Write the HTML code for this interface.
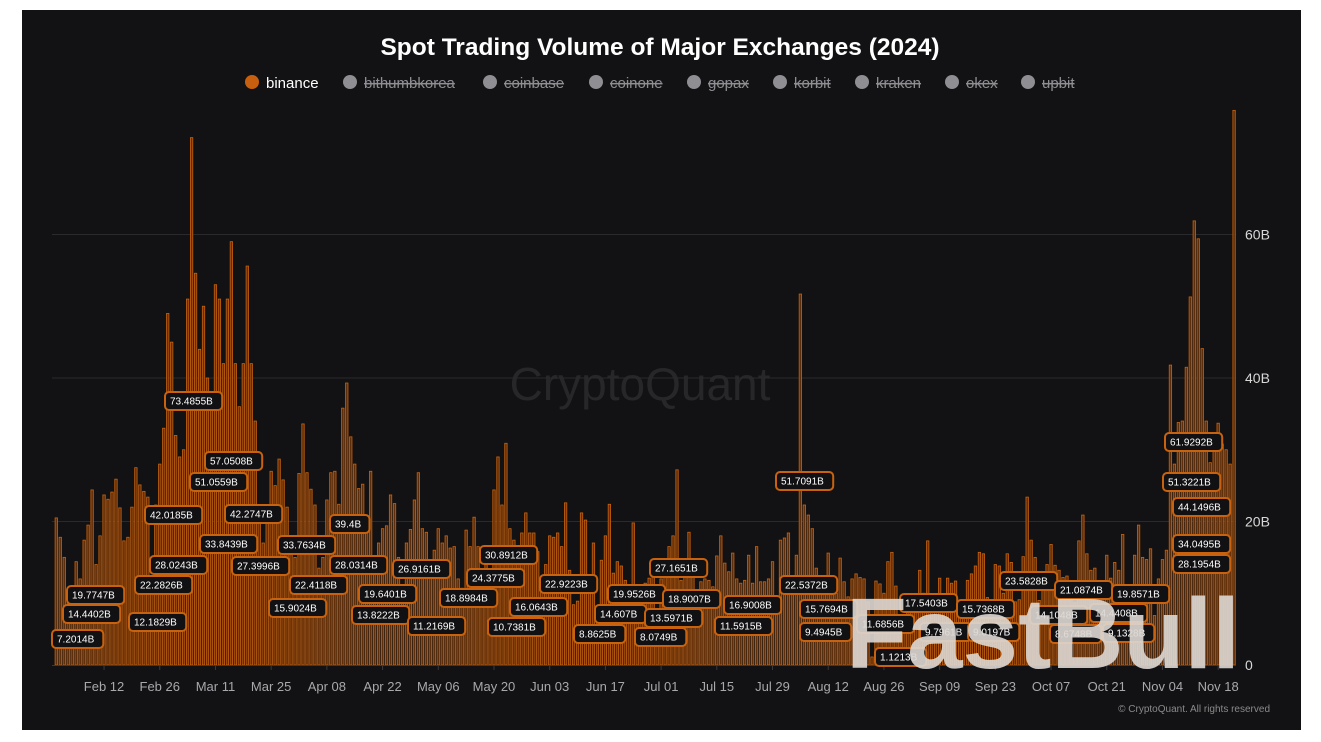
<!DOCTYPE html>
<html><head><meta charset="utf-8"><style>
html,body{margin:0;padding:0;background:#fff;}
svg{display:block;font-family:"Liberation Sans",sans-serif;}
</style></head><body>
<svg id="chart" width="1321" height="742" viewBox="0 0 1321 742">
  <rect x="22" y="10" width="1279" height="720" fill="#121214"/>
  <text x="660" y="55" text-anchor="middle" font-size="24.5" font-weight="bold" fill="#ffffff">Spot Trading Volume of Major Exchanges (2024)</text>
  <g id="legend"></g>
  <text x="640" y="400" text-anchor="middle" font-size="46" fill="#27272a">CryptoQuant</text>
  <g id="grid"></g>
  <g id="bars"></g>
  <g id="xaxis"></g>
  <g id="yaxis"></g>
  <g id="labels"></g>
  <text x="846" y="668" font-size="100" font-weight="bold" fill="#ddd8d3" opacity="0.9" textLength="394" lengthAdjust="spacingAndGlyphs">FastBull</text>
  <text x="1270" y="712" text-anchor="end" font-size="10" fill="#8a8a8a">© CryptoQuant. All rights reserved</text>
</svg>
<script>
const startDate = "2024-01-31";
const volA = [20.5,17.8,15,10,7.2,14.4,12,17.4,19.5,24.4,14,18,23.7,23.1,24.1,25.9,21.9,17.3,17.8,22,27.5,25.1,24.2,23.4,12.2,22.3,28];
const volB = [33,49,45,32,29,30,51,73.5,54.6,44,50,40,37,53,51,42,51,59,42,36,42,55.6];
const volC = [42,34,20,17,20,27,25,28.7,25.8,22,15.9,15,26.7,33.6,26.8,24.5,22.3,13.5,15,23,26.8,27,22.4,35.8,39.3,31.8,28,24.6,25.2,19.6,27,13.8,17,19,19.4,23.7,22.5,15,11.2,17,18.9,23,26.8,19,18.5,14,16,19,17,18,16.3,16.5,12,10.7];
const volD = [18.8,16.5,20.6,16.5,10.7,14.6,13,24.4,29,22.3,30.9,19,17.4,16,18.4,21.2,18.4,18.4,15.8,11.8,14,18,17.8,18.4,16.5,22.6,13.2,8.4,8.9,21.2,20.2,11.8,17,7.2,14.6,18,22.4,12.8,14.4,13.8,11.8,8.1,19.8,11,10,11.4,12.1];
const volE = [13.6,7.2,12,14,16.5,18,27.2,11.8,13,18.5,13.7,10.5,11.6,12,11.8,10.9,15.2,18,14.2,13,15.6,12,11.4,11.8,15.3,11.4,16.5,11.6,11.6,12,14.4,8,17.4,17.7,18.4,12,15.3,51.7,22.3,20.9,19,13.5,11.8,10,15.6,11.8,10,14.9,11.6,9.5,12];
const volF = [12.7,12.2,12,8.8,1.12,11.7,11.3,10,14.4,15.7,11,7,6.6,8,9.9,9.8,13.2,10,17.3,9.9,9.5,12.1,9.9,12.1,11.4,11.7,7.7,9,11.8,12.7,13.8,15.7,15.5,9.4,9,14,13.8,10,15.5,14.3,8.8,9.1,15.1,23.4,17.4,15,9,10.5,14,16.8,13.9,13.2,12.2,12.4,9.9,8.7,17.3,20.9,15.5,13.2,13.5,9.9,9.1,15.3,12.1,14.3,13.2,18.2,10.5,9.5,15.3,19.5,15,14.7,16.2,6.9,12,14.7,16,41.8,28,33.8,34,41.5,51.3,61.9,59.4,44.1,34,28.2,30.8,33.7,30.8,30,28,77.3];
const volumes = volA.concat(volB, volC, volD, volE, volF);
const xTicks = ["Feb 12","Feb 26","Mar 11","Mar 25","Apr 08","Apr 22","May 06","May 20","Jun 03","Jun 17","Jul 01","Jul 15","Jul 29","Aug 12","Aug 26","Sep 09","Sep 23","Oct 07","Oct 21","Nov 04","Nov 18"];
const xTickDates = ["2024-02-12","2024-02-26","2024-03-11","2024-03-25","2024-04-08","2024-04-22","2024-05-06","2024-05-20","2024-06-03","2024-06-17","2024-07-01","2024-07-15","2024-07-29","2024-08-12","2024-08-26","2024-09-09","2024-09-23","2024-10-07","2024-10-21","2024-11-04","2024-11-18"];
const yTicks = [0,20,40,60];
const yTickLabels = ["0","20B","40B","60B"];
const legendNames = ["binance","bithumbkorea","coinbase","coinone","gopax","korbit","kraken","okex","upbit"];
const labelTexts = ["7.2014B","14.4402B","19.7747B","12.1829B","22.2826B","28.0243B","42.0185B","33.8439B","73.4855B","51.0559B","57.0508B","42.2747B","27.3996B","15.9024B","33.7634B","22.4118B","39.4B","28.0314B","19.6401B","13.8222B","26.9161B","11.2169B","18.8984B","24.3775B","30.8912B","10.7381B","16.0643B","22.9223B","8.8625B","14.607B","19.9526B","27.1651B","18.9007B","13.5971B","8.0749B","16.9008B","11.5915B","51.7091B","22.5372B","15.7694B","9.4945B","11.6856B","1.1213B","17.5403B","9.7961B","15.7368B","9.0197B","23.5828B","14.1048B","8.6748B","21.0874B","14.4408B","19.8571B","9.1328B","61.9292B","51.3221B","44.1496B","34.0495B","28.1954B"];
// annotation layout (left x, center y) for the value label boxes
const labelLayout = [[52,639],[63,614],[67,595],[129,622],[135,585],[150,565],[145,515],[200,544],[165,401],[190,482],[205,461],[225,514],[232,566],[269,608],[278,545],[290,585],[330,524],[330,565],[359,594],[352,615],[393,569],[408,626],[440,598],[467,578],[480,555],[488,627],[510,607],[540,584],[574,634],[595,614],[608,594],[650,568],[663,599],[645,618],[635,637],[724,605],[715,626],[776,481],[780,585],[800,609],[800,632],[857,624],[875,657],[900,603],[920,632],[957,609],[968,632],[1000,581],[1030,615],[1050,634],[1055,590],[1090,613],[1112,594],[1103,633],[1165,442],[1163,482],[1173,507],[1173,544],[1173,564]];

const NS = "http://www.w3.org/2000/svg";
const x0 = 56.3, pxPerDay = 3.979, yBase = 665, pxPerB = 7.175, plotL = 52, plotR = 1236;
const t0 = Date.parse(startDate);
function dayIndex(d){ return Math.round((Date.parse(d) - t0) / 86400000); }
function xScale(i){ return x0 + i * pxPerDay; }
function yScale(v){ return yBase - v * pxPerB; }
function mk(tag, attrs, parent){ const e = document.createElementNS(NS, tag); for (const k in attrs) e.setAttribute(k, attrs[k]); parent.appendChild(e); return e; }

const lg = document.getElementById("legend");
const legendX = [252,350,490,596,694,780,862,952,1028];
legendNames.forEach((n, k) => {
  const on = k === 0;
  const g = mk("g", {}, lg);
  
  
  mk("circle", {cx: legendX[k], cy: 82, r: 7, fill: on ? "#c85f0e" : "#8e8e93"}, g);
  const t = mk("text", {x: legendX[k] + 14, y: 88, "font-size": 15, fill: on ? "#ffffff" : "#8e8e93", "text-decoration": on ? "none" : "line-through"}, g);
  t.textContent = n;
});

const grid = document.getElementById("grid"), ya = document.getElementById("yaxis");
yTicks.forEach((v, k) => {
  if (v > 0) {
    const l = mk("line", {x1: plotL, x2: plotR, y1: yScale(v), y2: yScale(v), stroke: "#2a2a2d", "stroke-width": 1}, grid);
    
    
  }
  const t = mk("text", {x: 1245, y: yScale(v) + 5, "font-size": 14, fill: "#d8d8d8"}, ya);
  
  
  t.textContent = yTickLabels[k];
});

const bars = document.getElementById("bars");
volumes.forEach((v, i) => {
  const x = xScale(i), y = yScale(v);
  const r = mk("rect", {x: (x - 1.2).toFixed(2), y: y.toFixed(2), width: 2.4, height: (yBase - y).toFixed(2), fill: "#5e2d09", stroke: "#c9620f", "stroke-width": 0.8}, bars);
  
  
});

const xa = document.getElementById("xaxis");
mk("line", {x1: plotL, x2: plotR, y1: yBase + 0.5, y2: yBase + 0.5, stroke: "#3a3a3d"}, xa);
xTicks.forEach((lab, k) => {
  const x = xScale(dayIndex(xTickDates[k]));
  mk("line", {x1: x, x2: x, y1: yBase, y2: yBase + 5, stroke: "#3a3a3d"}, xa);
  const t = mk("text", {x: x, y: 691, "text-anchor": "middle", "font-size": 13, fill: "#a8a8ad"}, xa);
  
  
  t.textContent = lab;
});

const lb = document.getElementById("labels");
labelTexts.forEach((txt, k) => {
  const [lx, cy] = labelLayout[k];
  const w = txt.length * 5.9 + 10;
  const g = mk("g", {}, lb);
  
  
  mk("rect", {x: lx, y: cy - 9, width: w, height: 18, rx: 4, fill: "#111113", stroke: "#c8620e", "stroke-width": 2}, g);
  const t = mk("text", {x: lx + 5, y: cy + 3.5, "font-size": 10, fill: "#ffffff"}, g);
  t.textContent = txt;
});
</script>
</body></html>
